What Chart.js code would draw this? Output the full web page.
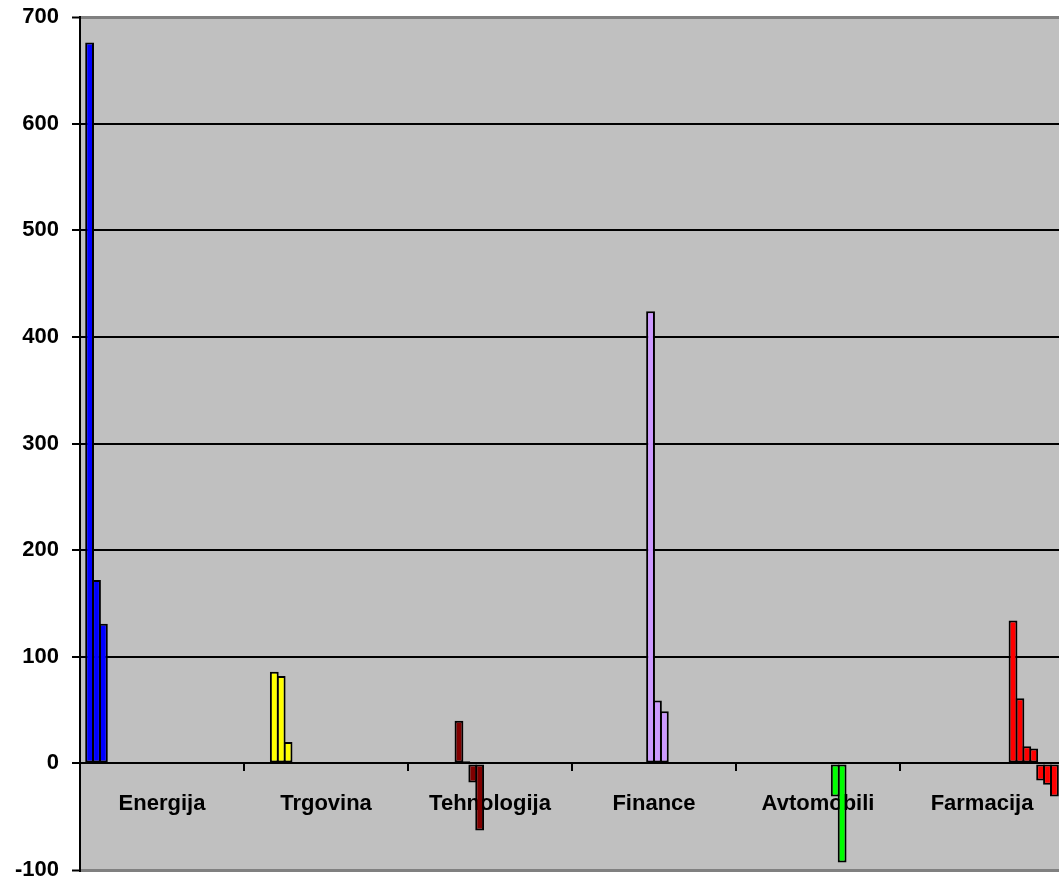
<!DOCTYPE html>
<html>
<head>
<meta charset="utf-8">
<script src="https://cdn.jsdelivr.net/npm/chart.js@4.4.1/dist/chart.umd.min.js"></script>
<style>
  html, body { margin: 0; padding: 0; background: #ffffff; overflow: hidden; }
  #wrap { position: absolute; left: 0; top: 0; width: 1070px; height: 885px; }
</style>
</head>
<body>
<div id="wrap"><canvas id="chart"></canvas></div>
<script>
// Sectors along the category axis
const categories = ['Energija', 'Trgovina', 'Tehnologija', 'Finance', 'Avtomobili', 'Farmacija'];

// Values of the individual series, grouped by sector
const energija    = [676, 172, 131];
const trgovina    = [86, 82, 20];
const tehnologija = [40, 2, -18, -63];
const finance     = [424, 59, 49];
const avtomobili  = [-31, -93];
const farmacija   = [134, 61, 16, 14, -16, -20, -31];

// Value axis range and step
const yMin = -100;
const yMax = 700;
const yStep = 100;

const sectorValues = [energija, trgovina, tehnologija, finance, avtomobili, farmacija];
const sectorColors = ['#0000FF', '#FFFF00', '#800000', '#CC99FF', '#00FF00', '#FF0000'];

// One dataset per series; each series only has a value in its own sector.
// Bars are slightly wider than their slot so neighbouring outlines merge.
const datasets = [];
sectorValues.forEach((values, sectorIndex) => {
  values.forEach(v => {
    const data = categories.map((_, i) => (i === sectorIndex ? v : null));
    datasets.push({
      data,
      backgroundColor: sectorColors[sectorIndex],
      borderColor: '#000000',
      borderWidth: 2,
      borderSkipped: false,
      categoryPercentage: 0.925,
      barPercentage: 1.28
    });
  });
});

// Grey plot area behind the bars
const plotBackground = {
  id: 'plotBackground',
  beforeDraw(chart) {
    const { ctx, chartArea: a } = chart;
    ctx.save();
    ctx.fillStyle = '#C0C0C0';
    ctx.fillRect(a.left, a.top, a.right - a.left, a.bottom - a.top);
    ctx.restore();
  }
};

const labelFont = { family: "'Liberation Sans', Arial, sans-serif", size: 22, weight: 'bold' };

new Chart(document.getElementById('chart'), {
  type: 'bar',
  data: { labels: categories, datasets },
  plugins: [plotBackground],
  options: {
    responsive: true,
    maintainAspectRatio: false,
    animation: false,
    events: [],
    layout: { padding: { left: 0, top: 17, right: 6, bottom: 15 } },
    plugins: { legend: { display: false }, tooltip: { enabled: false } },
    scales: {
      x: {
        position: { y: 0 },
        z: 1,
        offset: true,
        afterFit(scale) { scale.paddingLeft = 0; scale.paddingRight = 0; },
        grid: {
          offset: true,
          drawOnChartArea: false,
          drawTicks: true,
          tickLength: 8,
          color: '#000000',
          lineWidth: 2
        },
        border: { display: false },
        ticks: { color: '#000000', font: labelFont, padding: 19, maxRotation: 0, autoSkip: false }
      },
      y: {
        min: yMin,
        max: yMax,
        afterFit(scale) { scale.width = 80; scale.paddingTop = 0; scale.paddingBottom = 0; },
        grid: {
          color: ctx => (ctx.tick && (ctx.tick.value === yMax || ctx.tick.value === yMin)) ? '#808080' : '#000000',
          lineWidth: ctx => (ctx.tick && (ctx.tick.value === yMax || ctx.tick.value === yMin)) ? 3 : 2,
          tickColor: '#000000',
          tickWidth: 2,
          tickLength: 8,
          drawTicks: true
        },
        border: { display: true, color: '#000000', width: 2 },
        ticks: { stepSize: yStep, color: '#000000', font: labelFont, padding: 13 }
      }
    }
  }
});
</script>
</body>
</html>
